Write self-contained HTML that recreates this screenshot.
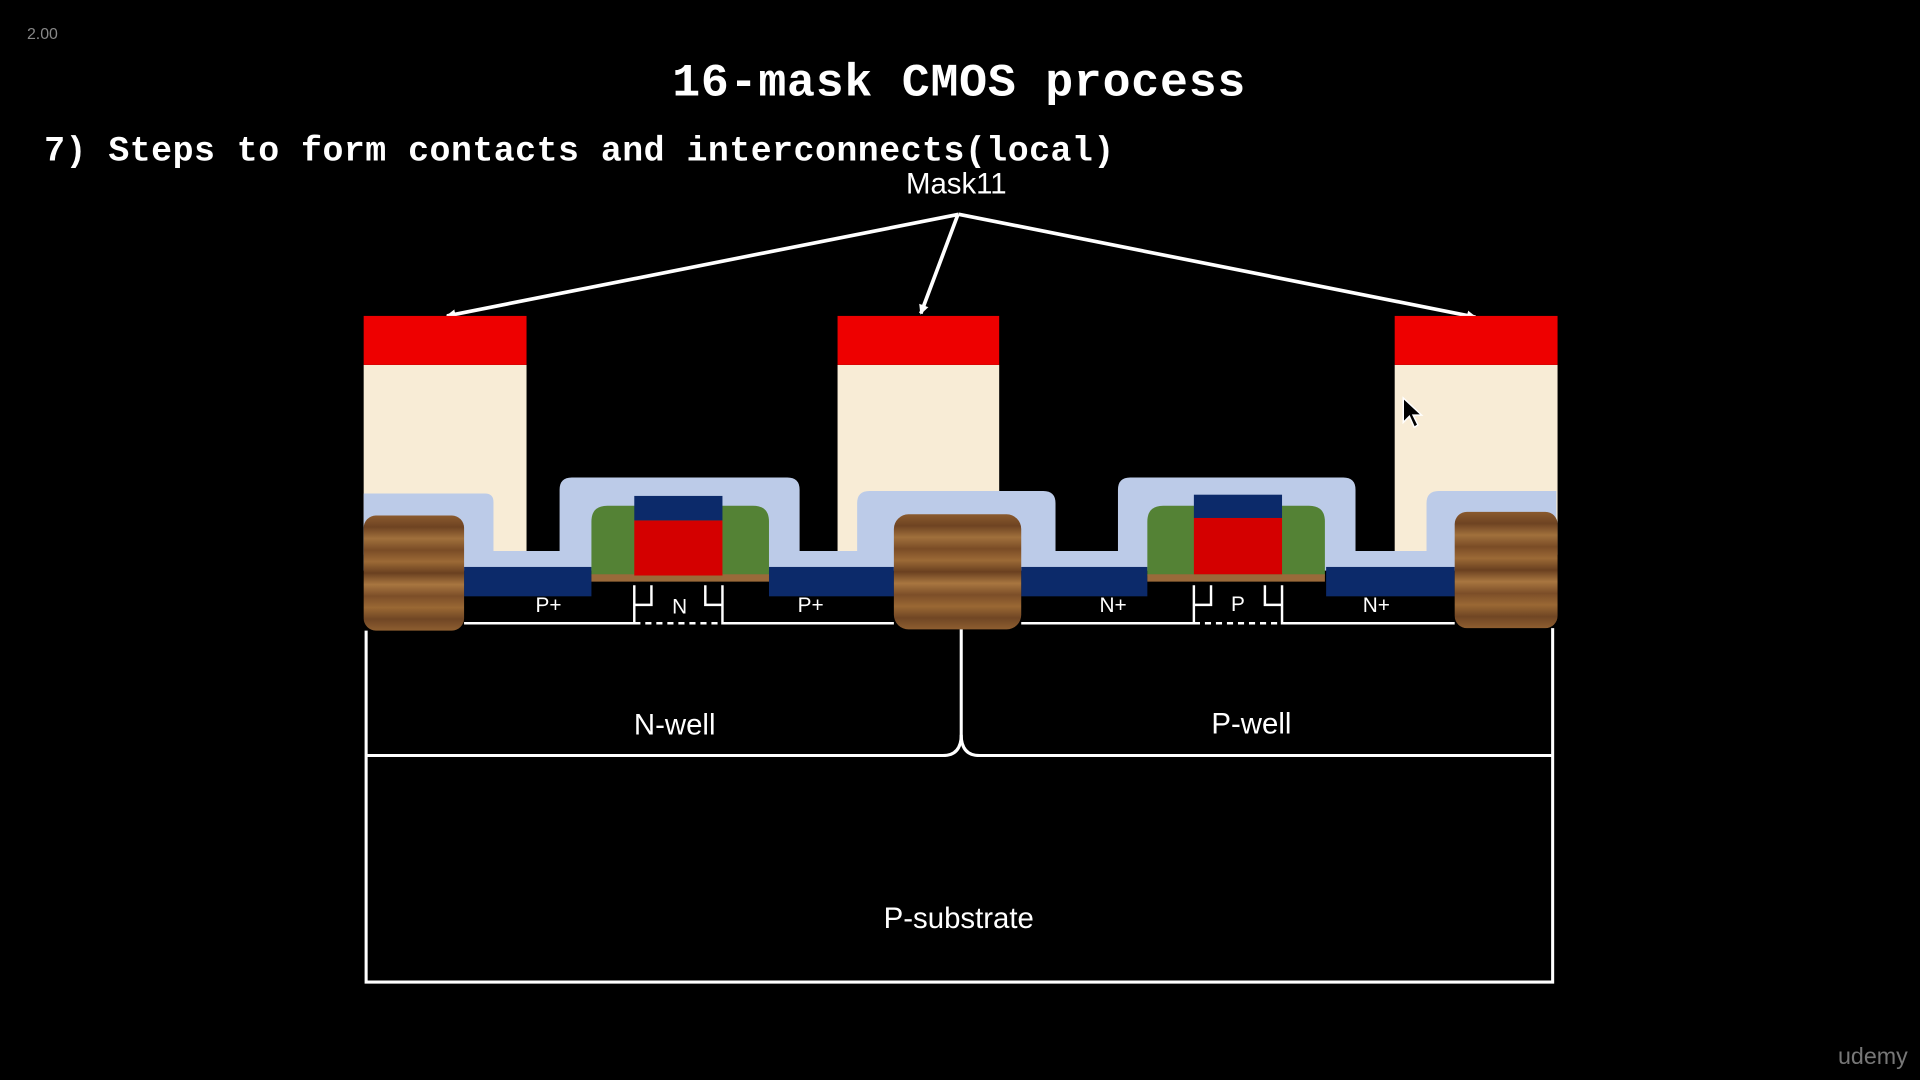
<!DOCTYPE html>
<html><head><meta charset="utf-8"><style>
html,body{margin:0;padding:0;background:#000;width:1920px;height:1080px;overflow:hidden}
svg{display:block}
</style></head><body>
<svg width="1920" height="1080" viewBox="0 0 1568 882" xmlns="http://www.w3.org/2000/svg">
<defs>
<linearGradient id="wood" x1="0" y1="0" x2="0" y2="1">
<stop offset="0" stop-color="#8a5a2e"/><stop offset="0.1" stop-color="#6e4322"/><stop offset="0.2" stop-color="#a0703c"/><stop offset="0.3" stop-color="#7a4c26"/><stop offset="0.4" stop-color="#9c6a36"/><stop offset="0.5" stop-color="#6a4020"/><stop offset="0.6" stop-color="#a87640"/><stop offset="0.7" stop-color="#7c4e28"/><stop offset="0.8" stop-color="#9a6834"/><stop offset="0.9" stop-color="#704624"/><stop offset="1" stop-color="#8e5e30"/>
</linearGradient>
<marker id="ah" markerWidth="8" markerHeight="8" refX="7" refY="4" orient="auto" markerUnits="userSpaceOnUse"><path d="M0,0 L8,4 L0,8 Z" fill="#fff"/></marker>
</defs>
<rect width="1568" height="882" fill="#000"/>
<text x="22" y="32" font-family="Liberation Sans,sans-serif" font-size="13" fill="#888">2.00</text>
<text x="549" y="78" font-family="Liberation Mono,monospace" font-weight="bold" font-size="38" fill="#fff" textLength="468">16-mask CMOS process</text>
<text x="36" y="131" font-family="Liberation Mono,monospace" font-weight="bold" font-size="28.5" fill="#fff" textLength="874">7) Steps to form contacts and interconnects(local)</text>
<text x="781" y="158" text-anchor="middle" font-family="Liberation Sans,sans-serif" font-size="24" fill="#fff">Mask11</text>
<g stroke="#fff" stroke-width="3" marker-end="url(#ah)">
<line x1="783" y1="175" x2="365" y2="258"/>
<line x1="782" y1="176" x2="752" y2="256"/>
<line x1="783" y1="175" x2="1205" y2="259"/>
</g>
<g fill="#f8ecd6">
<rect x="297" y="298" width="133" height="155"/>
<rect x="684" y="298" width="132" height="155"/>
<rect x="1139" y="298" width="133" height="155"/>
</g>
<g fill="#ee0000">
<rect x="297" y="258" width="133" height="40"/>
<rect x="684" y="258" width="132" height="40"/>
<rect x="1139" y="258" width="133" height="40"/>
</g>
<path d="M297,466 L297,403 L396,403 Q403,403 403,410 L403,450 L457,450 L457,400 Q457,390 467,390 L643,390 Q653,390 653,400 L653,450 L700,450 L700,411 Q700,401 710,401 L852,401 Q862,401 862,411 L862,450 L913,450 L913,400 Q913,390 923,390 L1097,390 Q1107,390 1107,400 L1107,450 L1165,450 L1165,411 Q1165,401 1175,401 L1271,401 L1271,466 Z" fill="#bccbe8"/>
<g fill="#0c2a6a">
<rect x="379" y="463" width="104" height="24"/>
<rect x="628" y="463" width="102" height="24"/>
<rect x="834" y="463" width="103" height="24"/>
<rect x="1083" y="463" width="105" height="24"/>
</g>
<path d="M483,470 L483,426 Q483,413 496,413 L615,413 Q628,413 628,426 L628,470 Z" fill="#548235"/>
<rect x="483" y="469" width="145" height="6" fill="#9a6a3a"/>
<rect x="518" y="425" width="72" height="45" fill="#d40000"/>
<rect x="518" y="405" width="72" height="20" fill="#0c2a6a"/>
<path d="M937,470 L937,426 Q937,413 950,413 L1069,413 Q1082,413 1082,426 L1082,470 Z" fill="#548235"/>
<rect x="937" y="469" width="145" height="6" fill="#9a6a3a"/>
<rect x="975" y="423" width="72" height="46" fill="#d40000"/>
<rect x="975" y="404" width="72" height="19" fill="#0c2a6a"/>
<rect x="297" y="421" width="82" height="94" rx="10" fill="url(#wood)"/>
<rect x="730" y="420" width="104" height="94" rx="12" fill="url(#wood)"/>
<rect x="1188" y="418" width="84" height="95" rx="10" fill="url(#wood)"/>
<g stroke="#fff" stroke-width="2" fill="none">
<polyline points="379,509 518,509 518,478"/>
<polyline points="518,494 532,494 532,478"/>
<polyline points="590,478 590,509 730,509"/>
<polyline points="576,478 576,494 590,494"/>
<line x1="518" y1="509" x2="590" y2="509" stroke-dasharray="5,4"/>
<polyline points="834,509 975,509 975,478"/>
<polyline points="975,494 989,494 989,478"/>
<polyline points="1047,478 1047,509 1188,509"/>
<polyline points="1033,478 1033,494 1047,494"/>
<line x1="975" y1="509" x2="1047" y2="509" stroke-dasharray="5,4"/>
</g>
<g stroke="#fff" stroke-width="2.5" fill="none">
<polyline points="299,515 299,802 1268,802 1268,513"/>
<path d="M299,617 L770,617 Q785,617 785,600 L785,514"/>
<path d="M785,600 Q785,617 800,617 L1268,617"/>
</g>
<g font-family="Liberation Sans,sans-serif" fill="#fff" text-anchor="middle">
<text x="448" y="500" font-size="17">P+</text>
<text x="555" y="501" font-size="17">N</text>
<text x="662" y="500" font-size="17">P+</text>
<text x="909" y="500" font-size="17">N+</text>
<text x="1011" y="499" font-size="17">P</text>
<text x="1124" y="500" font-size="17">N+</text>
<text x="551" y="600" font-size="24">N-well</text>
<text x="1022" y="599" font-size="24">P-well</text>
<text x="783" y="758" font-size="24">P-substrate</text>
</g>
<path d="M1146,325 L1146,345 L1151,340 L1155,349 L1158,347 L1154,339 L1161,339 Z" fill="#000" stroke="#fff" stroke-width="1.2"/>
<text x="1558" y="869" text-anchor="end" font-family="Liberation Sans,sans-serif" font-size="19" fill="#777">udemy</text>
</svg>
</body></html>
